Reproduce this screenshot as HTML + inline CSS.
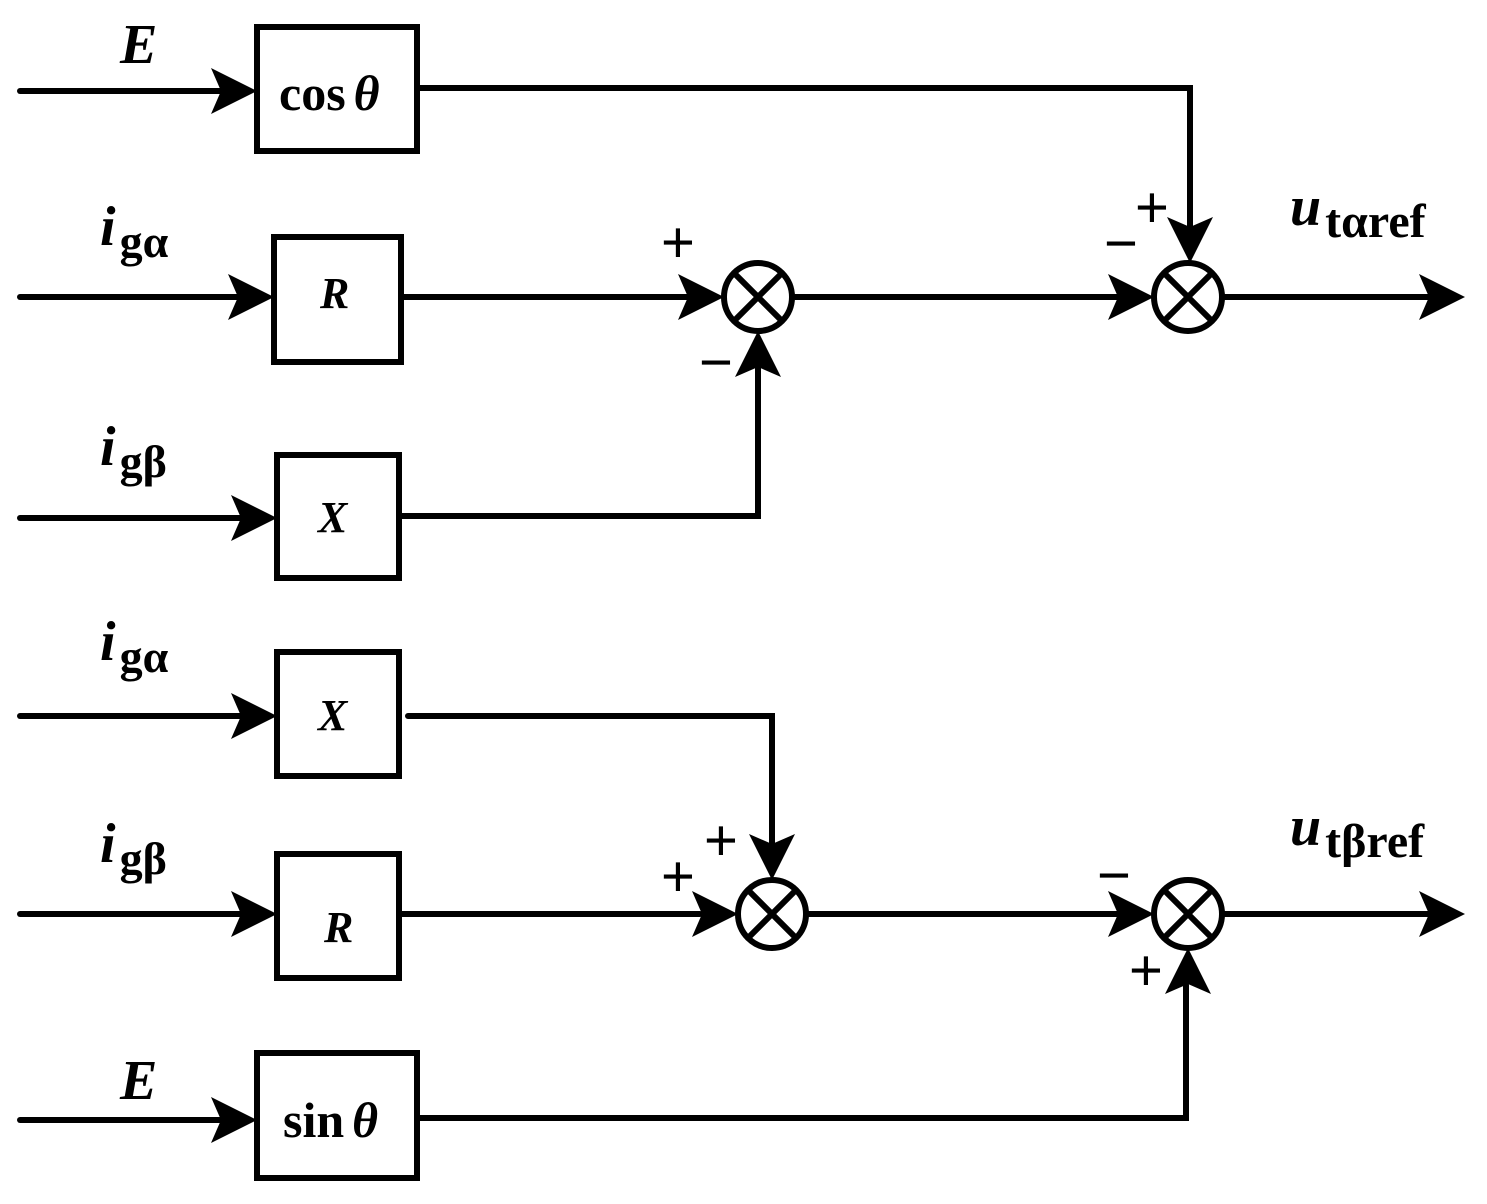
<!DOCTYPE html>
<html><head><style>
body{margin:0;background:#fff}
svg{display:block}
text{font-family:"Liberation Serif",serif;font-weight:bold;fill:#000}
.s{font-weight:normal;font-family:"Liberation Sans",sans-serif;font-size:58px}
</style></head><body>
<svg width="1487" height="1204" viewBox="0 0 1487 1204">
<defs>
<g id="ah"><polygon points="0,0 -46,-23 -36,0 -46,23" fill="#000"/></g>
</defs>
<g stroke="#000" stroke-width="6" fill="none" stroke-linecap="round">
<rect x="257" y="27" width="160" height="124"/>
<rect x="274" y="237" width="127" height="125"/>
<rect x="277" y="455" width="122" height="123"/>
<rect x="277" y="652" width="122" height="124"/>
<rect x="277" y="854" width="122" height="124"/>
<rect x="257" y="1053" width="160" height="125"/>
<circle cx="758" cy="297" r="34"/>
<circle cx="1188" cy="297" r="34"/>
<circle cx="772" cy="914" r="34"/>
<circle cx="1188" cy="914" r="34"/>
<path d="M734,273L782,321M782,273L734,321"/>
<path d="M1164,273L1212,321M1212,273L1164,321"/>
<path d="M748,890L796,938M796,890L748,938"/>
<path d="M1164,890L1212,938M1212,890L1164,938"/>
<path d="M20,91H220"/><path d="M20,297H238"/><path d="M20,518H240"/><path d="M20,716H240"/><path d="M20,914H240"/><path d="M20,1120H220"/>
<path d="M417,88H1190V230"/>
<path d="M401,297H690"/>
<path d="M399,516H758V365"/>
<path d="M795,297H1120"/>
<path d="M1222,297H1430"/>
<path d="M408,716H772V845"/>
<path d="M399,914H700"/>
<path d="M808,914H1120"/>
<path d="M1222,914H1430"/>
<path d="M417,1118H1186V985"/>
</g>
<use href="#ah" transform="translate(257,91)"/>
<use href="#ah" transform="translate(274,297)"/>
<use href="#ah" transform="translate(277,518)"/>
<use href="#ah" transform="translate(277,716)"/>
<use href="#ah" transform="translate(277,914)"/>
<use href="#ah" transform="translate(257,1120)"/>
<use href="#ah" transform="translate(1190,263) rotate(90)"/>
<use href="#ah" transform="translate(724,297)"/>
<use href="#ah" transform="translate(758,331) rotate(-90)"/>
<use href="#ah" transform="translate(1154,297)"/>
<use href="#ah" transform="translate(1465,297)"/>
<use href="#ah" transform="translate(772,880) rotate(90)"/>
<use href="#ah" transform="translate(738,914)"/>
<use href="#ah" transform="translate(1154,914)"/>
<use href="#ah" transform="translate(1465,914)"/>
<use href="#ah" transform="translate(1188,948) rotate(-90)"/>
<g font-size="50">
<text x="279" y="110">cos<tspan font-style="italic" dx="8">θ</tspan></text>
<text x="283" y="1137">sin<tspan font-style="italic" dx="8">θ</tspan></text>
<text x="320" y="308" font-style="italic" font-size="44">R</text>
<text x="324" y="942" font-style="italic" font-size="44">R</text>
<text x="318" y="532" font-style="italic" font-size="44">X</text>
<text x="318" y="730" font-style="italic" font-size="44">X</text>
</g>
<g font-size="56">
<text x="120" y="63" font-style="italic">E</text>
<text x="120" y="1099" font-style="italic">E</text>
<text x="100" y="245" font-style="italic">i<tspan font-size="46" font-style="normal" dy="12" dx="4">gα</tspan></text>
<text x="100" y="465" font-style="italic">i<tspan font-size="46" font-style="normal" dy="12" dx="4">gβ</tspan></text>
<text x="100" y="660" font-style="italic">i<tspan font-size="46" font-style="normal" dy="12" dx="4">gα</tspan></text>
<text x="100" y="862" font-style="italic">i<tspan font-size="46" font-style="normal" dy="12" dx="4">gβ</tspan></text>
<text x="1290" y="225" font-style="italic">u<tspan font-size="48" font-style="normal" dy="12" dx="4">tαref</tspan></text>
<text x="1290" y="845" font-style="italic">u<tspan font-size="48" font-style="normal" dy="12" dx="4">tβref</tspan></text>
</g>
<text class="s" x="661" y="262">+</text>
<text class="s" x="699" y="382">−</text>
<text class="s" x="1135" y="227">+</text>
<text class="s" x="1104" y="263">−</text>
<text class="s" x="704" y="860">+</text>
<text class="s" x="661" y="896">+</text>
<text class="s" x="1097" y="895">−</text>
<text class="s" x="1129" y="990">+</text>
</svg>
</body></html>
